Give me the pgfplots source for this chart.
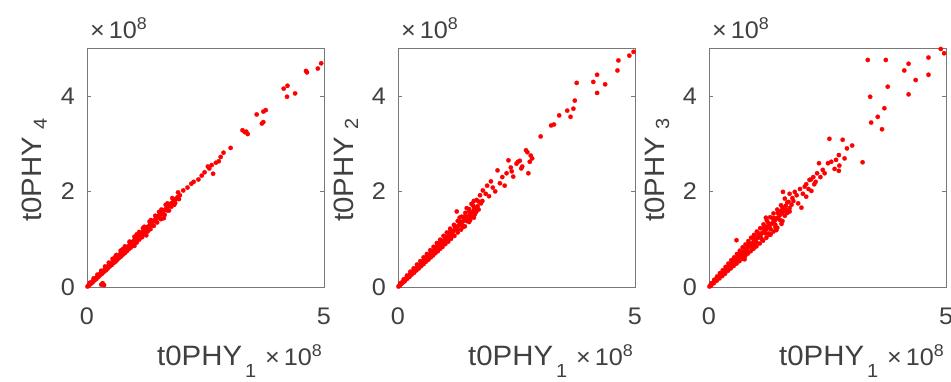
\documentclass[border=0pt]{standalone}
\usepackage{fontspec}
\setmainfont{Liberation Sans}[FakeStretch=1.05]
\usepackage{pgfplots}
\pgfplotsset{compat=1.18}
\definecolor{axgray}{RGB}{120,120,120}
\definecolor{txtgray}{RGB}{64,64,64}
\newcommand{\tsz}{\fontsize{24}{26}\selectfont}
\newcommand{\lsz}{\fontsize{28}{30}\selectfont}
\newcommand{\esz}{\fontsize{24}{26}\selectfont}
\newcommand{\ssz}{\fontsize{19}{20}\selectfont}
\newcommand{\expo}{{\esz ×\,10\raisebox{9pt}{\fontsize{17}{17}\selectfont 8}}}
\pgfplotsset{
  myax/.style={
    width=237pt, height=239pt, scale only axis,
    xmin=0, xmax=5, ymin=0, ymax=5,
    xtick={0,5}, ytick={0,2,4},
    scaled ticks=false,
    tick align=inside, major tick length=4pt,
    axis line style={draw=axgray, line width=0.8pt},
    tick style={draw=axgray, line width=0.6pt},
    /pgf/number format/assume math mode=true,
    ticklabel style={font=\tsz, text=txtgray},
    xticklabel style={anchor=north, inner sep=0pt, yshift=-21pt},
    yticklabel style={anchor=east, inner sep=0pt, xshift=-12pt},
    clip mode=individual,
    anchor=south west,
  },
  pts/.style={only marks, mark=*, mark size=2.2pt, color=red, mark options={fill=red, draw=red, line width=0.2pt}},
}
\newcommand{\decor}[1]{%
  \node[anchor=base west, inner sep=0pt, text=txtgray] at ([shift={(70pt,-78pt)}]axis description cs:0,0) {\lsz t0PHY\hspace{3pt}\raisebox{-12pt}{\ssz 1}};
  \node[anchor=base east, inner sep=0pt, text=txtgray] at ([shift={(-2pt,-78pt)}]axis description cs:1,0) {\expo};
  \node[anchor=base west, inner sep=0pt, text=txtgray] at ([shift={(3pt,10pt)}]axis description cs:0,1) {\expo};
  \node[anchor=base west, inner sep=0pt, text=txtgray, rotate=90] at ([shift={(-45pt,65pt)}]axis description cs:0,0) {\lsz t0PHY\hspace{7pt}\raisebox{-5pt}{\ssz #1}};
}
\begin{document}
\begin{tikzpicture}
\path[use as bounding box] (0,0) rectangle (951pt,381pt);
% ---------------- Panel 1 ----------------
\begin{axis}[myax, at={(87pt,94pt)}]
\addplot[pts] coordinates {
(0.01,0.01)(0.03,0.03)(0.05,0.05)(0.07,0.06)(0.09,0.09)(0.11,0.10)(0.13,0.13)(0.15,0.14)(0.17,0.17)(0.19,0.18)(0.21,0.21)(0.23,0.22)(0.25,0.25)(0.27,0.26)(0.29,0.29)(0.31,0.30)(0.33,0.32)(0.35,0.34)(0.37,0.36)(0.39,0.38)(0.41,0.40)(0.43,0.42)(0.45,0.44)(0.47,0.46)(0.49,0.48)(0.52,0.51)(0.55,0.53)(0.58,0.57)(0.61,0.59)(0.64,0.63)(0.67,0.65)(0.70,0.69)(0.73,0.71)(0.76,0.74)(0.79,0.77)(0.82,0.80)(0.85,0.83)(0.88,0.86)(0.91,0.89)(0.94,0.92)(0.97,0.95)(1.00,0.98)(1.03,1.01)(1.06,1.03)(1.09,1.07)(1.12,1.09)(1.15,1.13)(1.18,1.15)(1.21,1.19)(1.24,1.21)(1.27,1.25)(1.30,1.27)(1.33,1.31)(1.36,1.33)(1.39,1.37)(1.42,1.39)(1.45,1.43)(1.48,1.45)(1.51,1.49)(1.54,1.51)(1.57,1.55)(1.60,1.57)(1.63,1.61)(1.66,1.63)(1.69,1.67)(1.72,1.69)(1.75,1.73)(1.79,1.76)(1.83,1.80)(1.87,1.84)(1.91,1.88)(1.96,1.92)
(0.04,0.03)(0.08,0.07)(0.12,0.10)(0.16,0.14)(0.20,0.17)(0.24,0.21)(0.28,0.25)(0.32,0.28)(0.36,0.32)(0.40,0.35)(0.44,0.39)(0.48,0.43)(0.52,0.46)(0.56,0.50)(0.60,0.53)(0.64,0.57)(0.68,0.61)(0.72,0.64)(0.76,0.68)(0.80,0.71)(0.84,0.75)(0.88,0.79)(0.92,0.82)(0.96,0.86)(1.00,0.90)(1.05,0.93)(1.10,0.99)(1.16,1.04)(1.22,1.10)(1.28,1.16)(1.34,1.21)(1.41,1.28)(1.48,1.35)(1.56,1.42)(1.64,1.51)(1.73,1.60)(1.84,1.72)
(0.06,0.09)(0.14,0.18)(0.22,0.26)(0.30,0.34)(0.38,0.43)(0.46,0.51)(0.54,0.59)(0.62,0.67)(0.71,0.76)(0.80,0.85)(0.90,0.95)(1.00,1.05)(1.10,1.15)(1.21,1.26)(1.32,1.37)(1.44,1.49)(1.57,1.62)(1.70,1.75)
(0.10,0.09)(0.18,0.17)(0.26,0.24)(0.34,0.32)(0.42,0.39)(0.50,0.47)(0.58,0.54)(0.66,0.62)(0.74,0.69)(0.82,0.77)(0.90,0.84)(0.98,0.92)(1.06,0.99)(1.14,1.07)(1.22,1.14)(1.30,1.22)(1.38,1.29)(1.46,1.37)(1.54,1.44)(1.62,1.52)(1.70,1.60)(1.78,1.68)(1.86,1.76)(1.94,1.84)
(0.60,0.64)(0.75,0.79)(0.90,0.94)(1.05,1.10)(1.18,1.23)(1.35,1.40)(1.52,1.57)(1.66,1.72)(1.80,1.86)(1.92,1.98)
(0.30,0.05)(0.36,0.04)(0.33,0.08)(1.00,0.86)(1.25,1.08)(1.62,1.44)
(2.03,2.02)(2.12,2.08)(2.20,2.16)(2.25,2.20)(2.35,2.25)(2.42,2.33)(2.48,2.40)(2.58,2.48)(2.55,2.52)(2.66,2.37)(2.63,2.55)(2.72,2.60)(2.78,2.63)(2.82,2.72)(2.88,2.81)(3.03,2.91)(3.28,3.28)(3.33,3.24)(3.39,3.20)(3.36,3.25)(3.58,3.61)(3.69,3.42)(3.72,3.45)(3.72,3.67)(3.77,3.70)(4.15,4.15)(4.23,4.21)(4.22,3.98)(4.39,4.05)(4.64,4.49)(4.62,4.52)(4.87,4.57)(4.94,4.68)
};
\decor{4}
\end{axis}
% ---------------- Panel 2 ----------------
\begin{axis}[myax, at={(398pt,94pt)}]
\addplot[pts] coordinates {
(0.01,0.01)(0.03,0.03)(0.05,0.06)(0.07,0.07)(0.09,0.10)(0.11,0.11)(0.13,0.14)(0.15,0.15)(0.17,0.18)(0.19,0.19)(0.21,0.22)(0.23,0.23)(0.25,0.26)(0.27,0.27)(0.29,0.30)(0.31,0.31)(0.33,0.34)(0.35,0.35)(0.37,0.38)(0.39,0.39)(0.41,0.42)(0.43,0.43)(0.45,0.46)(0.47,0.47)(0.49,0.50)(0.52,0.52)(0.55,0.56)(0.58,0.58)(0.61,0.62)(0.64,0.64)(0.67,0.68)(0.70,0.70)(0.73,0.74)(0.76,0.76)(0.79,0.80)(0.82,0.82)(0.85,0.86)(0.88,0.88)(0.91,0.92)(0.94,0.94)(0.97,0.98)(1.00,1.00)(1.03,1.04)(1.06,1.06)(1.09,1.10)(1.12,1.12)(1.15,1.16)(1.18,1.18)(1.21,1.22)(1.24,1.24)(1.27,1.28)(1.30,1.30)(1.33,1.34)(1.36,1.36)(1.39,1.40)(1.42,1.42)(1.45,1.46)(1.48,1.48)(1.52,1.53)(1.56,1.56)(1.60,1.61)(1.64,1.64)(1.68,1.69)
(0.04,0.03)(0.09,0.08)(0.14,0.12)(0.19,0.17)(0.24,0.21)(0.29,0.26)(0.34,0.30)(0.39,0.35)(0.44,0.39)(0.49,0.44)(0.54,0.48)(0.59,0.53)(0.64,0.57)(0.69,0.62)(0.74,0.66)(0.79,0.71)(0.84,0.75)(0.89,0.80)(0.94,0.84)(1.00,0.90)(1.06,0.95)(1.12,1.01)(1.19,1.07)(1.26,1.14)(1.33,1.20)(1.41,1.27)(1.50,1.36)(1.60,1.45)
(0.05,0.08)(0.12,0.16)(0.19,0.24)(0.26,0.32)(0.33,0.39)(0.40,0.47)(0.47,0.54)(0.54,0.62)(0.61,0.69)(0.68,0.77)(0.75,0.84)(0.82,0.92)(0.89,0.99)(0.96,1.07)(1.03,1.14)(1.10,1.22)(1.18,1.30)(1.26,1.38)(1.34,1.47)(1.42,1.55)(1.50,1.63)(1.58,1.71)
(0.15,0.14)(0.25,0.24)(0.35,0.33)(0.45,0.43)(0.55,0.52)(0.65,0.62)(0.75,0.71)(0.85,0.81)(0.95,0.90)(1.05,1.00)(1.15,1.09)(1.25,1.19)(1.35,1.28)(1.45,1.38)(1.55,1.47)(1.65,1.57)
(0.20,0.21)(0.30,0.32)(0.40,0.42)(0.50,0.53)(0.60,0.63)(0.70,0.74)(0.80,0.84)(0.90,0.95)(1.00,1.05)(1.10,1.16)(1.20,1.26)(1.30,1.37)(1.40,1.47)(1.50,1.58)(1.60,1.68)(1.70,1.79)
(1.24,1.58)(1.30,1.45)(1.45,1.65)(1.52,1.40)(1.55,1.74)(1.62,1.52)(1.66,1.82)(1.70,1.62)(1.38,1.26)(1.60,1.80)(1.75,1.75)
(1.78,1.80)(1.85,1.95)(1.92,1.90)(2.00,2.08)(2.05,2.00)(2.20,2.30)(2.25,2.12)(2.38,2.50)(2.40,2.42)
(1.73,1.92)(1.79,2.02)(1.88,2.12)(1.96,2.21)(2.10,2.44)(2.15,2.17)(2.29,2.38)(2.33,2.65)(2.43,2.31)(2.53,2.62)(2.50,2.58)(2.57,2.64)(2.62,2.52)(2.60,2.48)(2.70,2.86)(2.73,2.82)(2.75,2.38)(2.83,2.69)(2.80,2.75)(2.78,2.62)(3.01,3.15)(3.23,3.38)(3.29,3.40)(3.40,3.59)(3.57,3.69)(3.64,3.56)(3.70,3.73)(3.73,3.90)(3.77,4.27)(4.12,4.29)(4.20,4.44)(4.37,4.24)(4.20,4.06)(4.63,4.53)(4.65,4.74)(4.88,4.84)(4.97,4.92)
};
\decor{2}
\end{axis}
% ---------------- Panel 3 ----------------
\begin{axis}[myax, at={(709pt,94pt)}]
\addplot[pts] coordinates {
(0.01,0.01)(0.03,0.04)(0.05,0.05)(0.07,0.08)(0.09,0.09)(0.11,0.12)(0.13,0.13)(0.15,0.16)(0.17,0.17)(0.19,0.20)(0.21,0.21)(0.23,0.24)(0.25,0.25)(0.27,0.28)(0.29,0.29)(0.31,0.32)(0.33,0.33)(0.35,0.36)(0.37,0.37)(0.39,0.40)(0.41,0.41)(0.43,0.44)(0.45,0.45)(0.47,0.48)(0.49,0.49)(0.52,0.53)(0.55,0.55)(0.58,0.59)(0.61,0.61)(0.64,0.65)(0.67,0.67)(0.70,0.71)(0.73,0.73)(0.76,0.77)(0.79,0.79)(0.82,0.83)(0.85,0.85)(0.88,0.89)(0.91,0.91)(0.94,0.95)(0.97,0.97)(1.00,1.01)(1.03,1.03)(1.06,1.07)(1.09,1.09)(1.12,1.13)(1.15,1.15)(1.18,1.19)(1.21,1.21)(1.24,1.25)(1.27,1.27)(1.30,1.31)(1.33,1.33)(1.36,1.37)(1.39,1.39)(1.42,1.43)(1.46,1.46)(1.50,1.51)(1.54,1.54)(1.58,1.59)(1.62,1.62)
(0.04,0.03)(0.10,0.08)(0.16,0.13)(0.22,0.18)(0.28,0.23)(0.34,0.28)(0.40,0.34)(0.46,0.39)(0.52,0.44)(0.58,0.49)(0.64,0.54)(0.70,0.59)(0.76,0.64)(0.82,0.70)(0.88,0.75)(0.94,0.80)(1.00,0.85)(1.07,0.91)(1.14,0.97)(1.21,1.03)(1.28,1.09)(1.36,1.16)(1.44,1.24)(1.53,1.32)
(0.05,0.08)(0.11,0.15)(0.17,0.22)(0.23,0.29)(0.29,0.35)(0.35,0.42)(0.41,0.49)(0.47,0.56)(0.53,0.62)(0.59,0.69)(0.65,0.76)(0.71,0.83)(0.77,0.89)(0.83,0.96)(0.89,1.03)(0.95,1.09)(1.01,1.16)(1.08,1.23)(1.15,1.31)(1.22,1.39)(1.29,1.46)(1.36,1.54)(1.44,1.62)(1.52,1.71)
(0.20,0.19)(0.30,0.28)(0.40,0.37)(0.50,0.47)(0.60,0.56)(0.70,0.65)(0.80,0.74)(0.90,0.84)(1.00,0.93)(1.10,1.02)(1.20,1.12)(1.30,1.21)(1.40,1.30)(1.50,1.40)(1.60,1.49)(1.70,1.58)
(0.25,0.27)(0.35,0.37)(0.45,0.48)(0.55,0.59)(0.65,0.70)(0.75,0.80)(0.85,0.91)(0.95,1.02)(1.05,1.12)(1.15,1.23)(1.25,1.34)(1.35,1.44)(1.45,1.55)(1.55,1.66)(1.65,1.77)
(0.44,0.39)(0.62,0.55)(0.78,0.69)(0.96,0.86)(1.12,0.99)(1.26,1.12)(1.40,1.25)(1.55,1.38)(0.68,0.71)(0.86,0.89)(1.04,1.09)(1.20,1.26)(1.38,1.44)(1.52,1.59)
(1.62,1.70)(1.70,1.65)(1.78,1.80)(1.85,1.92)(1.88,1.75)(1.92,2.05)(1.98,1.95)(2.02,2.10)(2.10,2.05)(2.15,2.25)(2.22,2.15)(2.28,2.38)(2.35,2.30)(2.40,2.45)
(0.58,0.98)(1.42,1.19)(1.56,1.99)(1.20,1.45)(1.65,1.55)(1.60,1.85)(1.68,1.78)(1.70,1.95)(0.75,0.58)(1.30,1.10)
(1.74,1.72)(1.76,1.86)(1.81,1.99)(1.95,1.66)(2.05,1.89)(2.16,2.01)(2.12,2.24)(2.05,2.15)(2.20,2.30)(2.25,2.20)(2.32,2.59)(2.44,2.38)(2.51,2.59)(2.58,2.62)(2.65,2.47)(2.68,2.66)(2.74,2.76)(2.75,2.54)(2.74,2.43)(2.86,2.69)(2.91,2.90)(3.02,2.96)(2.54,3.10)(2.82,3.08)(3.24,2.61)(3.42,3.44)(3.56,3.56)(3.65,3.30)(3.70,3.74)(3.40,3.98)(3.77,4.19)(3.35,4.75)(3.73,4.75)(4.21,4.03)(4.36,4.33)(4.12,4.53)(4.21,4.67)(4.63,4.44)(4.63,4.80)(4.89,4.98)(4.96,4.89)
};
\decor{3}
\end{axis}
\end{tikzpicture}
\end{document}
